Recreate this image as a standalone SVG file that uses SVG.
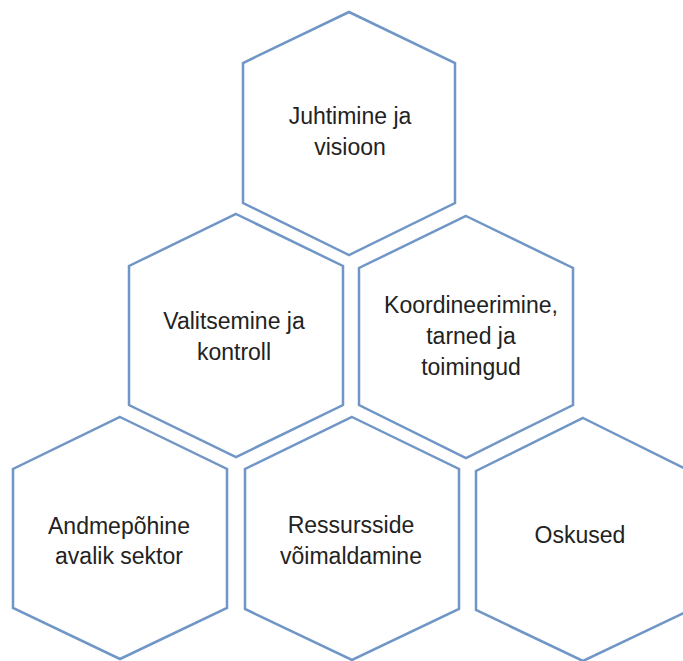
<svg xmlns="http://www.w3.org/2000/svg" width="683" height="661" viewBox="0 0 683 661">
  <style>
    .hex { fill: #ffffff; stroke: #6f96c6; stroke-width: 2.5; stroke-linejoin: miter; }
    .lbl { font-family: "Liberation Sans", "Open Sans", Arial, sans-serif; font-size: 23px; fill: #222222; text-anchor: middle; }
  </style>
  <rect width="683" height="661" fill="#ffffff"/>

  <g id="juhtimine">
    <polygon class="hex" points="349,12 455,63 455,203 349,255 243,203 243,63"/>
    <text class="lbl" x="350" y="124">Juhtimine ja</text>
    <text class="lbl" x="350" y="155">visioon</text>
  </g>

  <g id="valitsemine">
    <polygon class="hex" points="236,214 343,266 343,405 236,457 129,405 129,266"/>
    <text class="lbl" x="234" y="329">Valitsemine ja</text>
    <text class="lbl" x="234" y="360">kontroll</text>
  </g>

  <g id="koordineerimine">
    <polygon class="hex" points="466,216 573,268 573,405 466,458 359,405 359,268"/>
    <text class="lbl" x="471" y="313">Koordineerimine,</text>
    <text class="lbl" x="471" y="344">tarned ja</text>
    <text class="lbl" x="471" y="375">toimingud</text>
  </g>

  <g id="andmepohine">
    <polygon class="hex" points="120,417 227,469 227,608 120,659 13,608 13,469"/>
    <text class="lbl" x="119" y="534">Andmepõhine</text>
    <text class="lbl" x="119" y="564">avalik sektor</text>
  </g>

  <g id="ressursside">
    <polygon class="hex" points="352,417 459,469 459,609 352,660 245,609 245,469"/>
    <text class="lbl" x="351" y="533">Ressursside</text>
    <text class="lbl" x="351" y="564">võimaldamine</text>
  </g>

  <g id="oskused">
    <polygon class="hex" points="583,418 690,471 690,610 583,661 476,610 476,471"/>
    <text class="lbl" x="580" y="543">Oskused</text>
  </g>

  <g id="connectors"></g>
</svg>
